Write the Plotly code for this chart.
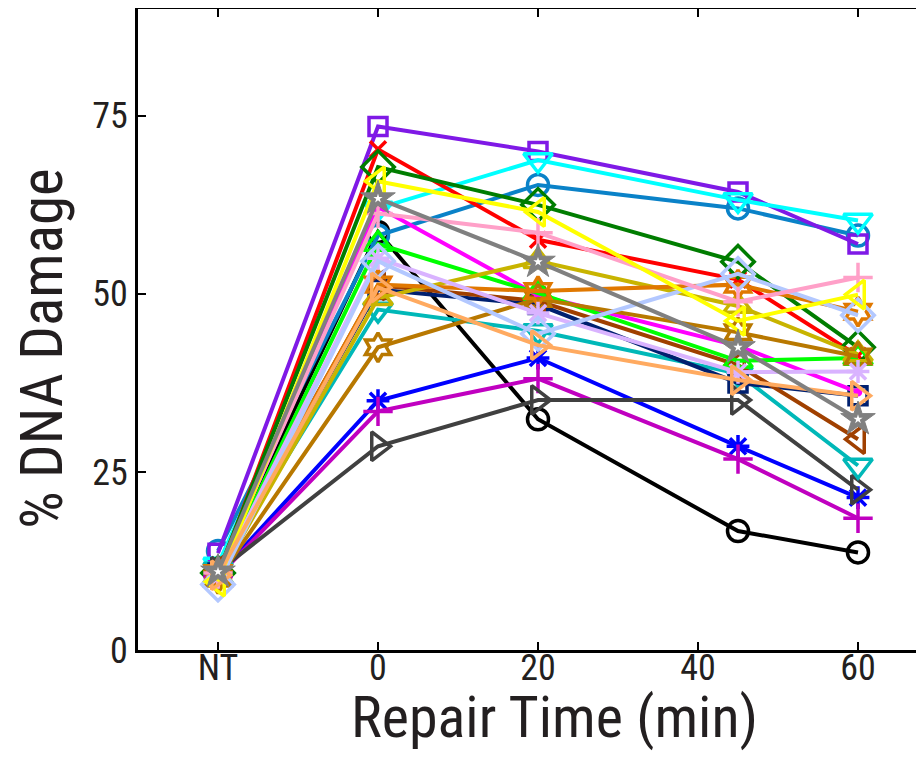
import plotly.graph_objects as go

# x positions: NT plotted at -20, then repair times in minutes
x_pos = [-20, 0, 20, 45, 60]
tick_vals = [-20, 0, 20, 40, 60]
tick_text = ["NT", "0", "20", "40", "60"]
y_ticks = [0, 25, 50, 75]

# series (bottom to top drawing order)
black_circle   = [11.0, 58.7, 32.4, 16.7, 13.7]
blue_circle    = [13.9, 58.2, 65.3, 62.0, 58.2]
purple_square  = [13.6, 73.5, 70.0, 64.3, 57.0]
cyan_tri       = [12.0, 62.0, 68.8, 63.2, 60.3]
red_x          = [10.5, 70.3, 57.6, 52.0, 41.3]
green_diamond  = [10.8, 67.8, 62.5, 54.5, 42.5]
blue_ast       = [10.5, 35.0, 41.0, 28.6, 21.4]
mag_plus       = [10.3, 33.5, 38.1, 26.8, 18.5]
dgray_tri      = [11.0, 28.6, 35.1, 35.1, 22.5]
teal_tri       = [11.3, 47.8, 44.8, 38.8, 25.9]
navy_square    = [10.8, 50.6, 48.5, 37.5, 35.7]
brown_tri      = [11.2, 51.2, 49.0, 40.0, 29.6]
magenta_dot    = [10.5, 62.2, 49.8, 42.7, 36.2]
lime_tri       = [10.3, 57.0, 50.1, 40.6, 41.0]
olive_tri      = [10.0, 49.4, 54.6, 48.3, 41.5]
gold_hex       = [10.0, 42.5, 49.3, 44.6, 41.2]
orange_hex     = [10.8, 51.3, 50.4, 51.3, 47.5]
lilac_ast      = [10.2, 55.0, 47.3, 39.0, 39.1]
lav_diamond    = [9.2, 54.6, 44.4, 52.8, 47.0]
pink_plus      = [10.8, 61.3, 58.6, 48.9, 52.3]
yellow_tri     = [9.6, 65.8, 61.5, 46.2, 49.9]
peach_tri      = [10.5, 50.9, 42.8, 37.9, 35.7]
gray_star      = [11.0, 63.4, 54.5, 42.5, 32.4]

series = [
    ("black_circle", "#000000", "circle-open", 21, black_circle),
    ("blue_circle", "#0a82c8", "circle-open", 21, blue_circle),
    ("purple_square", "#7f19e6", "square-open", 18, purple_square),
    ("cyan_tri", "#00ffff", "triangle-down-open", 25, cyan_tri),
    ("red_x", "#ff0000", "x-thin-open", 16, red_x),
    ("green_diamond", "#007d00", "diamond-open", 25, green_diamond),
    ("blue_ast", "#0000ff", "asterisk-open", 19, blue_ast),
    ("mag_plus", "#c000c0", "cross-thin-open", 21, mag_plus),
    ("dgray_tri", "#404040", "triangle-right-open", 25, dgray_tri),
    ("teal_tri", "#00b8b8", "triangle-down-open", 25, teal_tri),
    ("navy_square", "#002070", "square-open", 18, navy_square),
    ("brown_tri", "#a04000", "triangle-left-open", 25, brown_tri),
    ("magenta_dot", "#ff00ff", "circle", 5, magenta_dot),
    ("lime_tri", "#00ff00", "triangle-up-open", 25, lime_tri),
    ("olive_tri", "#c8b400", "triangle-up-open", 25, olive_tri),
    ("gold_hex", "#b87800", "hexagram-open", 22, gold_hex),
    ("orange_hex", "#e07800", "hexagram-open", 22, orange_hex),
    ("lilac_ast", "#d9b3ff", "asterisk-open", 19, lilac_ast),
    ("lav_diamond", "#b3c8ff", "diamond-open", 25, lav_diamond),
    ("pink_plus", "#ffa0c8", "cross-thin-open", 21, pink_plus),
    ("yellow_tri", "#ffff00", "triangle-left-open", 25, yellow_tri),
    ("peach_tri", "#ffaa60", "triangle-right-open", 25, peach_tri),
    ("gray_star", "#808080", "star", 26, gray_star),
]

fig = go.Figure()
for name, color, symbol, size, vals in series:
    if symbol == "star":
        marker = dict(symbol="star", size=size, color=color,
                      line=dict(color=color, width=1))
    else:
        marker = dict(symbol=symbol, size=size, color=color,
                      line=dict(color=color, width=3.5))
    fig.add_trace(go.Scatter(
        x=x_pos, y=vals, mode="lines+markers", name=name,
        line=dict(color=color, width=4), marker=marker,
        showlegend=False, cliponaxis=False,
    ))
# small white stars in the gray star centres
fig.add_trace(go.Scatter(x=x_pos, y=gray_star, mode="markers",
                         marker=dict(symbol="star", size=7, color="white"),
                         showlegend=False, cliponaxis=False))

txt = "#231f20"
font_family = "Liberation Sans Narrow, Roboto Condensed, Open Sans, sans-serif"
# page body has an 8px default margin, so the figure is 916x750 and offsets shifted
fig.update_layout(
    width=916, height=750,
    margin=dict(l=130, r=0, t=1, b=108),
    plot_bgcolor="white", paper_bgcolor="white",
    font=dict(family=font_family, color=txt),
    xaxis=dict(
        range=[-30, 68.25], tickvals=tick_vals, ticktext=tick_text,
        ticks="inside", ticklen=8, tickwidth=2, tickcolor="black",
        showline=True, linecolor="black", linewidth=3, mirror="ticks",
        showgrid=False, zeroline=False, automargin=False,
        ticklabelstandoff=-16,
        tickfont=dict(size=36, color=txt, family=font_family),
    ),
    yaxis=dict(
        range=[0, 90], tickvals=y_ticks,
        ticks="inside", ticklen=8, tickwidth=2, tickcolor="black",
        showline=True, linecolor="black", linewidth=3, mirror=False,
        showgrid=False, zeroline=False, automargin=False,
        tickfont=dict(size=36, color=txt, family=font_family),
    ),
    annotations=[
        dict(text="Repair Time (min)", xref="paper", yref="paper",
             x=0.5305, y=-0.105, xanchor="center", yanchor="middle",
             showarrow=False, font=dict(size=58, color=txt, family=font_family)),
        dict(text="% DNA Damage", xref="paper", yref="paper",
             x=-0.122, y=0.47, xanchor="center", yanchor="middle",
             textangle=-90, showarrow=False,
             font=dict(size=59, color=txt, family=font_family)),
    ],
)
fig.write_html("out.html")
